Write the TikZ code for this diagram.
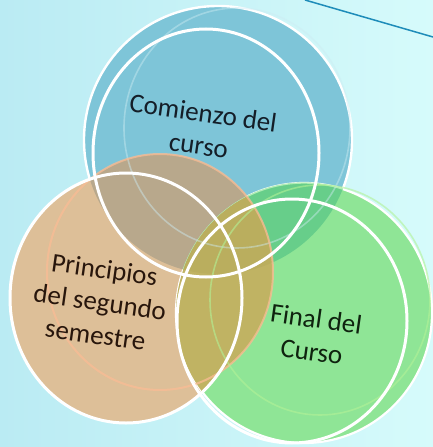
\documentclass[tikz,border=0pt]{standalone}
\usepackage{fontspec}
\newfontfamily\labelfont{Carlito}
\usetikzlibrary{positioning}
\definecolor{bgleft}{RGB}{186,235,243}
\definecolor{bgright}{RGB}{214,251,251}
\definecolor{topblue}{RGB}{126,197,216}
\definecolor{lefttan}{RGB}{221,191,152}
\definecolor{rightgreen}{RGB}{143,229,150}
\definecolor{bluetan}{RGB}{184,168,140}
\definecolor{bluegreen}{RGB}{103,206,138}
\definecolor{tangreen}{RGB}{192,179,99}
\definecolor{allthree}{RGB}{186,174,94}
\definecolor{linkblue}{RGB}{30,140,185}
\tikzset{
    x=1pt, y=-1pt,
    rim/.style={draw=white, line width=3pt},
    ghost/.style={line width=1.6pt, opacity=0.75},
    lbl/.style={align=center, rotate=-8, font=\labelfont\fontsize{27}{33}\selectfont}
}

\begin{document}
\begin{tikzpicture}
    \shade[left color=bgleft, right color=bgright] (0,0) rectangle (433,447);
    \useasboundingbox (0,0) rectangle (433,447);

    % discs
    \fill[topblue] (218,140) ellipse [x radius=134, y radius=134];
    \draw[white, line width=2.4pt] (218,140) ellipse [x radius=134, y radius=134];
    \fill[lefttan] (126,297) ellipse [x radius=116, y radius=125] (160,272) ellipse [x radius=113, y radius=118];
    \fill[rightgreen] (304,313) ellipse [x radius=128, y radius=130];
    \draw[white, line width=2.2pt] (304,313) ellipse [x radius=128, y radius=130];

    % overlaps
    \begin{scope}
        \clip (218,140) ellipse [x radius=134, y radius=134];
        \fill[bluetan] (126,297) ellipse [x radius=116, y radius=125] (160,272) ellipse [x radius=113, y radius=118];
        \fill[bluegreen] (304,313) ellipse [x radius=128, y radius=130];
        \draw[rightgreen!70!white, line width=1.4pt] (304,313) ellipse [x radius=128, y radius=130];
    \end{scope}
    \begin{scope}
        \clip (126,297) ellipse [x radius=116, y radius=125] (160,272) ellipse [x radius=113, y radius=118];
        \fill[tangreen] (304,313) ellipse [x radius=128, y radius=130];
        \clip (218,140) ellipse [x radius=134, y radius=134];
        \fill[allthree] (304,313) ellipse [x radius=128, y radius=130];
    \end{scope}

    % faint second rings
    \draw[ghost, opacity=0.45, draw={rgb,255:red,205;green,235;blue,242}] (237,128) ellipse [x radius=113, y radius=120];
    \draw[ghost, draw={rgb,255:red,250;green,188;blue,148}, line width=2pt] (160,272) ellipse [x radius=113, y radius=118];
    \draw[ghost, opacity=0.6, draw={rgb,255:red,178;green,242;blue,150}] (320,300) ellipse [x radius=110, y radius=115];

    % white rings
    \draw[rim] (206,153) ellipse [x radius=113, y radius=124];
    \draw[rim] (126,298) ellipse [x radius=116, y radius=125];
    \draw[rim] (292,321) ellipse [x radius=115, y radius=122];

    \node[lbl, text={rgb,255:red,20;green,30;blue,40}] (1) at (201,129) {Comienzo del\\curso};
    \node[lbl, text={rgb,255:red,40;green,22;blue,12}] (2) at (100,302) {Principios\\del segundo\\semestre};
    \node[lbl, text={rgb,255:red,15;green,35;blue,15}] (3) at (314,335) {Final del\\Curso};

    \coordinate (a) at (305,0);
    \coordinate (b) at (433,37);
    \draw[linkblue, line width=1.5pt] (a) -- (b);
\end{tikzpicture}
\end{document}
